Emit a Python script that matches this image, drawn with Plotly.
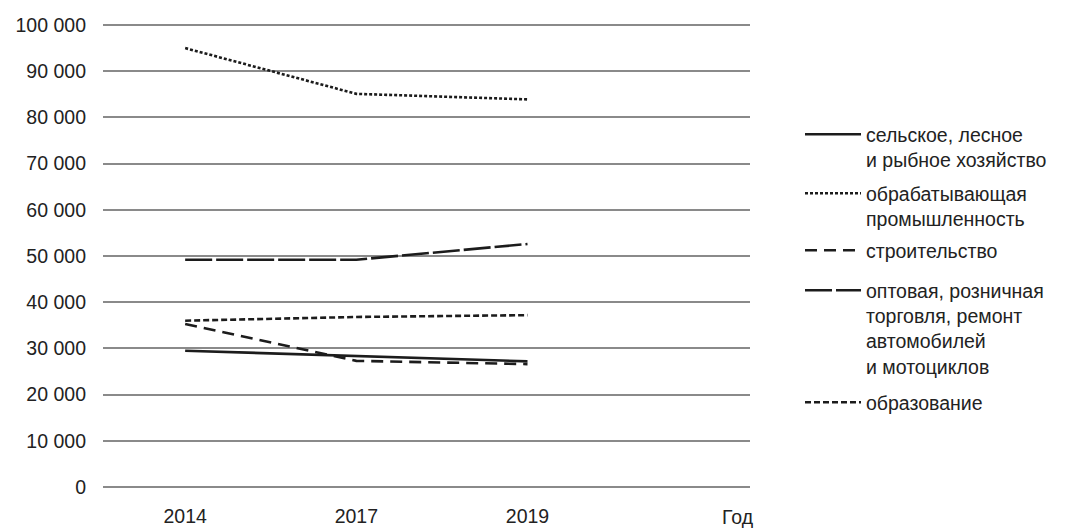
import plotly.graph_objects as go

years = ["2014", "2017", "2019"]
agri = [29500, 28400, 27200]
manuf = [95000, 85100, 83900]
constr = [35300, 27300, 26600]
trade = [49200, 49200, 52600]
edu = [36000, 36800, 37200]

names = [
    "сельское, лесное<br>и рыбное хозяйство",
    "обрабатывающая<br>промышленность",
    "строительство",
    "оптовая, розничная<br>торговля, ремонт<br>автомобилей<br>и мотоциклов",
    "образование",
]
series = [agri, manuf, constr, trade, edu]
dashes = ["solid", "3px,2px", "12px,7px", "27px,4px", "6px,3px"]
legend_ids = ["legend", "legend2", "legend3", "legend4", "legend5"]
legend_tops = [134, 193, 250, 290, 402]

OFF = 8  # page body margin
W, H = 1070 - OFF, 529 - OFF
L, R, T, B = 95, 320, 15, 40
plot_w = W - L - R
plot_h = H - T - B
pad = 433  # small range padding so the 0 and 100 000 gridlines are drawn

fig = go.Figure()
for nm, vals, d, lg in zip(names, series, dashes, legend_ids):
    fig.add_trace(go.Scatter(
        x=years, y=vals, mode="lines", name=nm,
        line=dict(color="#1c1c1c", width=2.6, dash=d),
        legend=lg,
    ))

font = "Liberation Sans, Arial, sans-serif"
layout_legends = {}
for lg, ty in zip(legend_ids, legend_tops):
    top_px = ty - OFF - 19
    layout_legends[lg] = dict(
        x=(792 - L) / plot_w, xanchor="left",
        y=(H - B - top_px) / plot_h, yanchor="top",
        bgcolor="rgba(0,0,0,0)", borderwidth=0,
        font=dict(family=font, size=19.5, color="#222"),
        valign="top", itemwidth=56,
    )

fig.update_layout(
    width=W, height=H,
    margin=dict(l=L, r=R, t=T, b=B, autoexpand=False),
    paper_bgcolor="white", plot_bgcolor="white",
    showlegend=True,
    font=dict(family=font, size=19.5, color="#222"),
    xaxis=dict(
        type="category", range=[-0.48, 3.30], automargin=False,
        showgrid=False, zeroline=False, showline=False, ticks="",
        ticklabelstandoff=13, tickfont=dict(size=19.5, color="#222"),
    ),
    yaxis=dict(
        range=[-pad, 100000 + pad], automargin=False,
        tickvals=list(range(0, 100001, 10000)),
        ticktext=[f"{v:,}".replace(",", " ") for v in range(0, 100001, 10000)],
        showgrid=True, gridcolor="#8a8a8a", gridwidth=1.5,
        zeroline=False, showline=False, ticks="",
        ticklabelstandoff=16, tickfont=dict(size=19.5, color="#222"),
    ),
    annotations=[dict(
        text="Год", xref="paper", yref="paper",
        x=(738 - OFF - L) / plot_w, y=0, xanchor="center", yanchor="top",
        yshift=-15, showarrow=False, font=dict(family=font, size=19.5, color="#222"),
    )],
    **layout_legends,
)

fig.write_html("out.html")
